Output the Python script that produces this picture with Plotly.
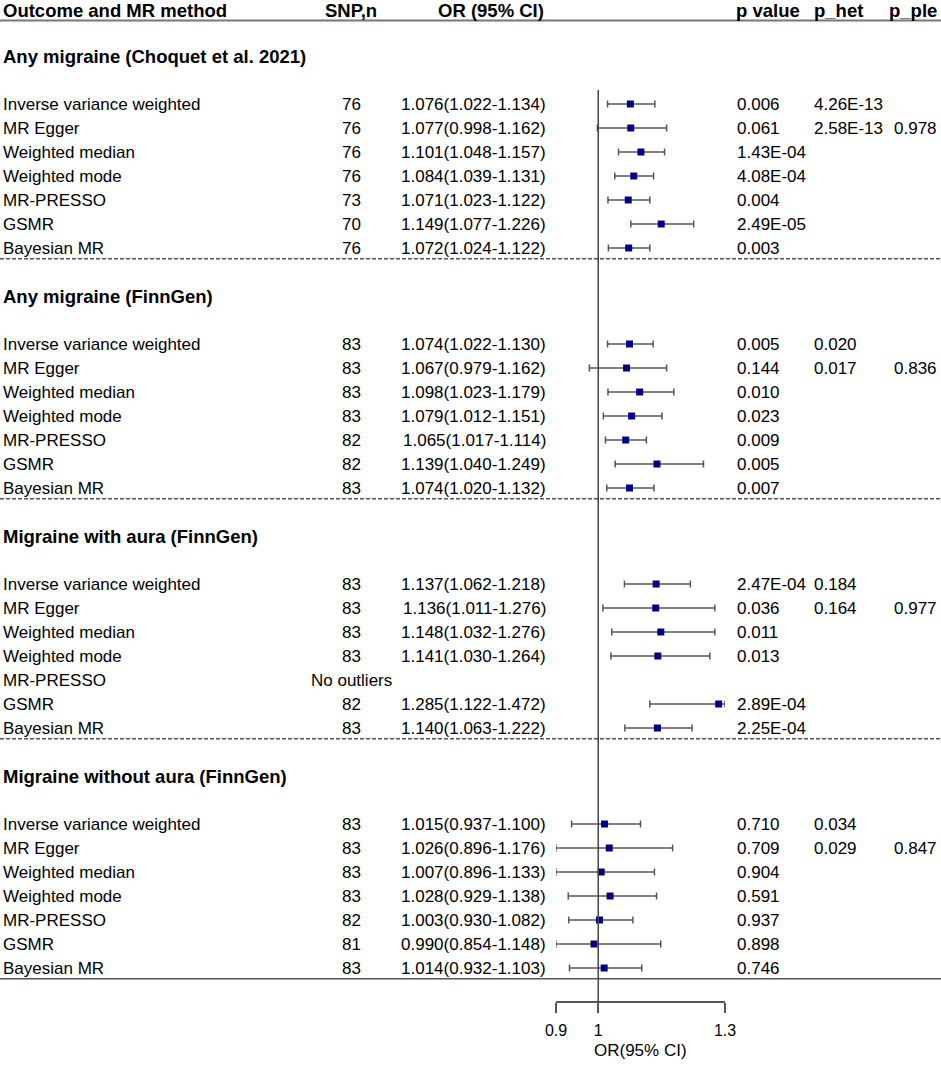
import plotly.graph_objects as go

# ---------------- data ----------------
groups = [
    "Any migraine (Choquet et al. 2021)",
    "Any migraine (FinnGen)",
    "Migraine with aura (FinnGen)",
    "Migraine without aura (FinnGen)",
]
methods = ["Inverse variance weighted", "MR Egger", "Weighted median",
           "Weighted mode", "MR-PRESSO", "GSMR", "Bayesian MR"]

snp = [
    [76, 76, 76, 76, 73, 70, 76],
    [83, 83, 83, 83, 82, 82, 83],
    [83, 83, 83, 83, None, 82, 83],
    [83, 83, 83, 83, 82, 81, 83],
]
or_est = [
    [1.076, 1.077, 1.101, 1.084, 1.071, 1.149, 1.072],
    [1.074, 1.067, 1.098, 1.079, 1.065, 1.139, 1.074],
    [1.137, 1.136, 1.148, 1.141, None, 1.285, 1.140],
    [1.015, 1.026, 1.007, 1.028, 1.003, 0.990, 1.014],
]
or_lo = [
    [1.022, 0.998, 1.048, 1.039, 1.023, 1.077, 1.024],
    [1.022, 0.979, 1.023, 1.012, 1.017, 1.040, 1.020],
    [1.062, 1.011, 1.032, 1.030, None, 1.122, 1.063],
    [0.937, 0.896, 0.896, 0.929, 0.930, 0.854, 0.932],
]
or_hi = [
    [1.134, 1.162, 1.157, 1.131, 1.122, 1.226, 1.122],
    [1.130, 1.162, 1.179, 1.151, 1.114, 1.249, 1.132],
    [1.218, 1.276, 1.276, 1.264, None, 1.472, 1.222],
    [1.100, 1.176, 1.133, 1.138, 1.082, 1.148, 1.103],
]
p_value = [
    ["0.006", "0.061", "1.43E-04", "4.08E-04", "0.004", "2.49E-05", "0.003"],
    ["0.005", "0.144", "0.010", "0.023", "0.009", "0.005", "0.007"],
    ["2.47E-04", "0.036", "0.011", "0.013", "", "2.89E-04", "2.25E-04"],
    ["0.710", "0.709", "0.904", "0.591", "0.937", "0.898", "0.746"],
]
p_het = [
    ["4.26E-13", "2.58E-13", "", "", "", "", ""],
    ["0.020", "0.017", "", "", "", "", ""],
    ["0.184", "0.164", "", "", "", "", ""],
    ["0.034", "0.029", "", "", "", "", ""],
]
p_ple = [
    ["", "0.978", "", "", "", "", ""],
    ["", "0.836", "", "", "", "", ""],
    ["", "0.977", "", "", "", "", ""],
    ["", "0.847", "", "", "", "", ""],
]
no_outlier_text = "No outliers"

headers = ["Outcome and MR method", "SNP,n", "OR (95% CI)", "p value", "p_het", "p_ple"]
x_ticks = [0.9, 1, 1.3]
x_ticktext = ["0.9", "1", "1.3"]
x_title = "OR(95% CI)"

# ---------------- layout constants ----------------
W, H = 941, 1066
ROW0_PX, ROW_PX = 104, 24          # pixel centre of first row, row pitch
XMIN, XMAX = 0.9, 1.3
FOREST_L, FOREST_R = 556, 725      # pixel extent of the forest axis
FONT = "Liberation Sans, Arial, sans-serif"
BODY = 17
BOLD = 18.5


def px(xp):
    return xp / W


y_top = -ROW0_PX / ROW_PX
y_bot = (H - ROW0_PX) / ROW_PX


def prow(ypx):
    return (ypx - ROW0_PX) / ROW_PX


annotations = []


def txt(x, y, s, anchor="left", bold=False, size=None):
    annotations.append(dict(
        x=px(x), y=y, xref="paper", yref="y", text=f"<b>{s}</b>" if bold else s,
        showarrow=False, xanchor=anchor, yanchor="middle", borderpad=0,
        font=dict(family=FONT, size=size or (BOLD if bold else BODY), color="black"),
    ))


# header
hdr_y = prow(10.5)
txt(2, hdr_y, headers[0], "left", True)
txt(351, hdr_y, headers[1], "center", True)
txt(545, hdr_y, headers[2], "right", True)
txt(735, hdr_y, headers[3], "left", True)
txt(813, hdr_y, headers[4], "left", True)
txt(888, hdr_y, headers[5], "left", True)

xs, ys, ep, em = [], [], [], []
shapes = []
for g, title in enumerate(groups):
    base = 10 * g
    txt(2, base - 2, title, "left", True)
    for k, m in enumerate(methods):
        r = base + k
        txt(2, r, m, "left")
        if snp[g][k] is None:
            txt(351, r, no_outlier_text, "center")
        else:
            txt(351, r, str(snp[g][k]), "center")
        if or_est[g][k] is not None:
            o, lo, hi = or_est[g][k], or_lo[g][k], or_hi[g][k]
            txt(547, r, f"{o:.3f}({lo:.3f}-{hi:.3f})", "right")
            xs.append(o)
            ys.append(r)
            ep.append(min(hi, XMAX) - o)
            em.append(o - max(lo, XMIN))
        if p_value[g][k]:
            txt(736, r, p_value[g][k], "left")
        if p_het[g][k]:
            txt(813, r, p_het[g][k], "left")
        if p_ple[g][k]:
            txt(893, r, p_ple[g][k], "left")
    sep_y = base + 6.45
    shapes.append(dict(
        type="line", xref="paper", yref="y", x0=0, x1=1, y0=sep_y, y1=sep_y,
        line=dict(color="#555555", width=1.5,
                  dash="solid" if g == len(groups) - 1 else "4px,2px"),
    ))

# header underline
shapes.append(dict(type="line", xref="paper", yref="y", x0=0, x1=1,
                   y0=prow(20.5), y1=prow(20.5), line=dict(color="#777777", width=2)))
# reference line at OR = 1
axis_pos_px = 1002
shapes.append(dict(type="line", xref="x", yref="y", x0=1, x1=1,
                   y0=prow(90), y1=prow(axis_pos_px),
                   line=dict(color="#444444", width=1.5)))

# axis title
annotations.append(dict(
    x=px((FOREST_L + FOREST_R) / 2), y=prow(1050), xref="paper", yref="y",
    text=x_title, showarrow=False, xanchor="center", yanchor="middle", borderpad=0,
    font=dict(family=FONT, size=BODY, color="black"),
))

fig = go.Figure()
fig.add_trace(go.Scatter(
    x=xs, y=ys, mode="markers",
    marker=dict(symbol="square", size=7, color="#00008B", line=dict(width=0)),
    error_x=dict(type="data", symmetric=False, array=ep, arrayminus=em,
                 color="#555555", thickness=1.5, width=3.5),
    hoverinfo="skip", showlegend=False,
))

fig.update_layout(
    template="none",
    width=W, height=H, autosize=False,
    margin=dict(l=0, r=0, t=0, b=0, pad=0, autoexpand=False),
    paper_bgcolor="white", plot_bgcolor="white",
    xaxis=dict(
        domain=[px(FOREST_L), px(FOREST_R)], range=[XMIN, XMAX],
        anchor="free", position=1 - axis_pos_px / H, automargin=False,
        showgrid=False, zeroline=False, showline=True,
        linecolor="#555555", linewidth=1.5,
        ticks="outside", ticklen=10, tickwidth=1.5, tickcolor="#555555",
        tickvals=x_ticks, ticktext=x_ticktext,
        tickfont=dict(family=FONT, size=16, color="black"),
        ticklabelstandoff=4,
        fixedrange=True,
    ),
    yaxis=dict(
        domain=[0, 1], range=[y_bot, y_top], automargin=False,
        visible=False, showgrid=False, zeroline=False, fixedrange=True,
    ),
    shapes=shapes,
    annotations=annotations,
)

fig.write_html(
    "out.html",
    config={"responsive": False, "displayModeBar": False},
    post_script="document.body.style.margin='0';document.body.style.overflow='hidden';",
)
